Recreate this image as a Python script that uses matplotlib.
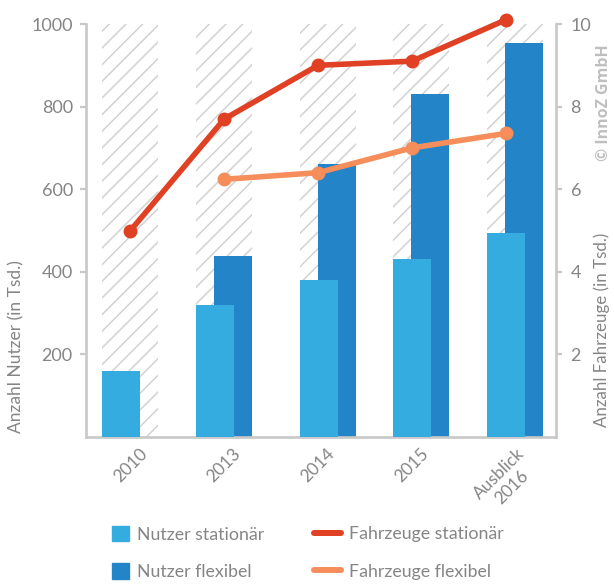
import numpy as np
import matplotlib.pyplot as plt
import matplotlib.transforms as mtransforms
from matplotlib.patches import Patch
from matplotlib.lines import Line2D

plt.rcParams['font.family'] = ['Lato', 'DejaVu Sans']
plt.rcParams['hatch.linewidth'] = 1.1

# data
years = ["2010", "2013", "2014", "2015", "Ausblick\n2016"]
nutzer_stationaer = [160, 320, 380, 430, 494]
nutzer_flexibel = [np.nan, 438, 661, 830, 955]
fahrzeuge_stationaer = [5.0, 7.7, 9.0, 9.1, 10.1]
fahrzeuge_flexibel = [np.nan, 6.24, 6.4, 7.0, 7.35]

c_light = '#35ace0'
c_dark = '#2385c8'
c_red = '#e04024'
c_orange = '#f58e5a'
c_grey = '#c8c8c8'
c_text = '#858585'

x = np.arange(len(years))
band_shift = np.array([0, 0, 1, 1, 1]) * 0.101
band_w = 0.597
bar_w = 0.405
bar_off = 0.096

fig = plt.figure(figsize=(6.14, 5.84), dpi=100)
ax = fig.add_axes([0.1401, 0.2517, 0.7654, 0.7072])

# hatched background bands
ax.bar(x + band_shift, [1000] * len(x), width=band_w, color='none',
       edgecolor='#d2d2d2', linewidth=0, hatch='//', zorder=1)
ax.bar(x + band_shift + bar_off, nutzer_flexibel, width=bar_w, color=c_dark, zorder=2)
ax.bar(x + band_shift - bar_off, nutzer_stationaer, width=bar_w, color=c_light, zorder=3)

ax.set_xlim(-0.474, 4.536)
ax.set_ylim(0, 1000)
ax.set_yticks([200, 400, 600, 800, 1000])
ax.set_xticks(x)
ax.set_xticklabels(years, rotation=45, ha='center', multialignment='center')
shift = mtransforms.ScaledTranslation(-4 / 100, 0, fig.dpi_scale_trans)
for lbl in ax.get_xticklabels():
    lbl.set_transform(lbl.get_transform() + shift)

for s in ['top', 'right']:
    ax.spines[s].set_visible(False)
for s in ['left', 'bottom']:
    ax.spines[s].set_color(c_grey)
    ax.spines[s].set_linewidth(1.9)
ax.tick_params(axis='y', length=4.5, width=1.6, color=c_grey, labelcolor=c_text,
               labelsize=13, pad=5)
ax.tick_params(axis='x', length=0, labelcolor=c_text, labelsize=12.5, pad=6)
ax.set_ylabel("Anzahl Nutzer (in Tsd.)", color=c_text, fontsize=12.5, va='center')
ax.yaxis.set_label_coords(-0.149, 0.22)

ax2 = ax.twinx()
ax2.set_ylim(0, 10)
ax2.set_yticks([2, 4, 6, 8, 10])
ax2.plot(x, fahrzeuge_stationaer, color=c_red, lw=4, marker='o', ms=9,
         solid_capstyle='round', clip_on=False)
ax2.plot(x, fahrzeuge_flexibel, color=c_orange, lw=4, marker='o', ms=9,
         solid_capstyle='round', clip_on=False)
for s in ['top', 'left', 'bottom']:
    ax2.spines[s].set_visible(False)
ax2.spines['right'].set_color(c_grey)
ax2.spines['right'].set_linewidth(1.9)
ax2.tick_params(axis='y', length=4.5, width=1.6, color=c_grey, labelcolor=c_text,
                labelsize=13, pad=6)
ax2.set_ylabel("Anzahl Fahrzeuge (in Tsd.)", color=c_text, fontsize=12.2,
               va='center', rotation=90)
ax2.yaxis.set_label_coords(1.097, 0.26)

fig.text(604 / 614, 1 - 103 / 584, "© InnoZ GmbH", rotation=90, ha='center',
         va='center', fontsize=11.5, fontweight='bold', color='#bfbfbf',
         family='Open Sans')

# legends
h1 = [Patch(color=c_light, label="Nutzer stationär"),
      Patch(color=c_dark, label="Nutzer flexibel")]
h2 = [Line2D([], [], color=c_red, lw=4.3, solid_capstyle='round', label="Fahrzeuge stationär"),
      Line2D([], [], color=c_orange, lw=4.3, solid_capstyle='round', label="Fahrzeuge flexibel")]
leg_kw = dict(loc='upper left', frameon=False, fontsize=12.8, labelcolor=c_text,
              borderpad=0, borderaxespad=0, handletextpad=0.45)
fig.legend(handles=h1, bbox_to_anchor=(112 / 614, 1 - 526 / 584),
           handlelength=0.955, handleheight=0.955, labelspacing=1.15, **leg_kw)
fig.legend(handles=h2, bbox_to_anchor=(314 / 614, 1 - 526 / 584),
           handlelength=1.52, labelspacing=1.22, **leg_kw)

fig.savefig("out.png", dpi=100)
